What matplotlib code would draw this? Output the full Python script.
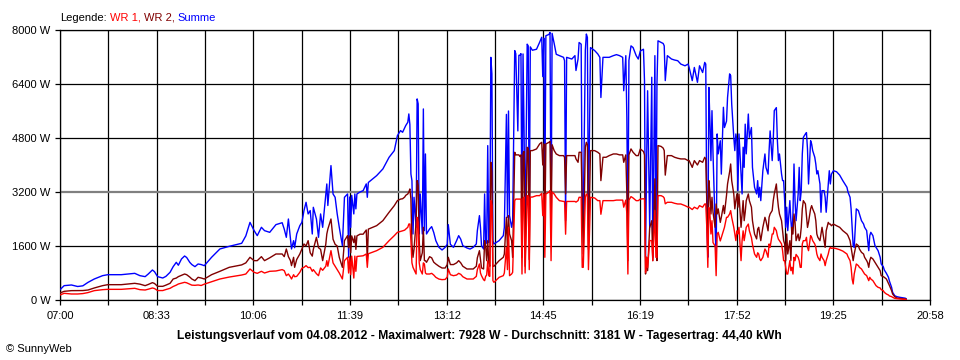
import matplotlib
matplotlib.use("Agg")
import matplotlib.pyplot as plt
import numpy as np

# ---------------- data ----------------
times = [
    "07:00", "07:04", "07:11", "07:17", "07:22", "07:27", "07:33", "07:41", "07:46", "07:59",
    "08:12", "08:17", "08:22", "08:25", "08:29", "08:31", "08:34", "08:39", "08:42", "08:46",
    "08:49", "08:52", "08:54", "08:57", "09:00", "09:02", "09:05", "09:07", "09:10", "09:13",
    "09:16", "09:19", "09:26", "09:34", "09:43", "09:55", "09:59", "10:03", "10:07", "10:10",
    "10:14", "10:17", "10:22", "10:28", "10:34", "10:36", "10:38", "10:40", "10:42", "10:43",
    "10:45", "10:46", "10:48", "10:51", "10:53", "10:55", "10:57", "10:59", "11:01", "11:03",
    "11:04", "11:07", "11:09", "11:11", "11:13", "11:16", "11:17", "11:18", "11:21", "11:23",
    "11:25", "11:27", "11:29", "11:32", "11:34", "11:37", "11:38", "11:39", "11:40", "11:41",
    "11:43", "11:44", "11:45", "11:46", "11:49", "11:52", "11:55", "11:56", "11:57", "12:05",
    "12:11", "12:17", "12:22", "12:25", "12:28", "12:30", "12:32", "12:33", "12:35", "12:36",
    "12:37", "12:38", "12:39", "12:40", "12:41", "12:43", "12:44", "12:45", "12:46", "12:47",
    "12:49", "12:50", "12:51", "12:52", "12:53", "12:56", "12:58", "13:00", "13:02", "13:05",
    "13:08", "13:11", "13:13", "13:14", "13:16", "13:19", "13:22", "13:24", "13:26", "13:28",
    "13:32", "13:35", "13:38", "13:41", "13:42", "13:44", "13:45", "13:46", "13:48", "13:49",
    "13:50", "13:51", "13:52", "13:53", "13:54", "13:55", "13:56", "13:57", "13:58", "14:03",
    "14:07", "14:08", "14:10", "14:11", "14:12", "14:13", "14:15", "14:16", "14:18", "14:19",
    "14:21", "14:22", "14:23", "14:24", "14:25", "14:26", "14:27", "14:28", "14:30", "14:31",
    "14:32", "14:33", "14:35", "14:39", "14:42", "14:44", "14:45", "14:46", "14:47", "14:48",
    "14:51", "14:52", "14:53", "14:54", "14:56", "14:58", "15:01", "15:05", "15:06", "15:07",
    "15:08", "15:13", "15:16", "15:17", "15:19", "15:20", "15:22", "15:23", "15:24", "15:26",
    "15:27", "15:28", "15:29", "15:31", "15:35", "15:38", "15:40", "15:41", "15:43", "15:46",
    "15:49", "15:53", "15:56", "15:59", "16:02", "16:03", "16:05", "16:06", "16:07", "16:08",
    "16:10", "16:12", "16:15", "16:17", "16:19", "16:22", "16:23", "16:24", "16:25", "16:26",
    "16:28", "16:30", "16:31", "16:33", "16:34", "16:35", "16:36", "16:39", "16:41", "16:42",
    "16:43", "16:45", "16:49", "16:52", "16:55", "16:58", "17:02", "17:05", "17:06", "17:09",
    "17:11", "17:14", "17:16", "17:19", "17:21", "17:22", "17:23", "17:24", "17:25", "17:26",
    "17:27", "17:28", "17:29", "17:31", "17:32", "17:33", "17:34", "17:36", "17:37", "17:39",
    "17:40", "17:42", "17:43", "17:45", "17:46", "17:47", "17:49", "17:50", "17:51", "17:52",
    "17:53", "17:54", "17:56", "17:57", "17:58", "17:59", "18:00", "18:01", "18:03", "18:04",
    "18:06", "18:07", "18:09", "18:11", "18:12", "18:13", "18:14", "18:15", "18:17", "18:19",
    "18:20", "18:22", "18:23", "18:24", "18:26", "18:27", "18:28", "18:30", "18:31", "18:32",
    "18:33", "18:35", "18:36", "18:37", "18:38", "18:39", "18:40", "18:41", "18:43", "18:44",
    "18:45", "18:46", "18:47", "18:48", "18:49", "18:51", "18:52", "18:53", "18:54", "18:55",
    "18:56", "18:58", "18:59", "19:00", "19:01", "19:03", "19:04", "19:05", "19:07", "19:08",
    "19:09", "19:10", "19:12", "19:13", "19:14", "19:16", "19:17", "19:18", "19:20", "19:21",
    "19:22", "19:23", "19:25", "19:28", "19:31", "19:34", "19:38", "19:39", "19:41", "19:42",
    "19:43", "19:44", "19:45", "19:47", "19:49", "19:50", "19:52", "19:54", "19:55", "19:57",
    "19:58", "19:59", "20:00", "20:01", "20:03", "20:04", "20:05", "20:06", "20:08", "20:10",
    "20:11", "20:13", "20:14", "20:16", "20:18", "20:19", "20:21", "20:22", "20:24", "20:26",
    "20:29", "20:34", "20:35",
]

summe = [
    306, 425, 445, 400, 420, 523, 622, 721, 750, 750,
    790, 721, 692, 770, 889, 840, 692, 652, 700, 820,
    988, 1116, 1030, 1215, 1304, 1260, 1116, 1050, 988, 1067,
    1050, 1017, 1265, 1512, 1590, 1680, 1900, 2300, 2055, 1907,
    2154, 2055, 2005, 2233, 2290, 2100, 1857, 2400, 1800, 1512,
    1758, 1550, 1956, 2203, 2302, 2648, 2895, 2550, 2650, 1956,
    2747, 2400, 1857, 2550, 2154, 3142, 3438, 2800, 3982, 3142,
    3043, 2550, 2154, 1610, 3043, 3142, 1265, 3050, 2150, 3100,
    2550, 3142, 2700, 3142, 3200, 3240, 3440, 3043, 3482, 3685,
    3883, 4229, 4426, 4870, 5019, 4970, 5100, 5167, 5266, 5513,
    5200, 3734, 3537, 1956, 3043, 2154, 5958, 5810, 1956, 3142,
    1956, 5661, 2055, 4327, 1956, 2105, 2174, 2000, 1758, 1561,
    1482, 1561, 1650, 2233, 1650, 1561, 1758, 1907, 1800, 1610,
    1541, 1510, 1560, 1660, 2055, 2500, 2150, 1610, 1512, 3142,
    1660, 1758, 4574, 1700, 1800, 7190, 6700, 1758, 1660, 1760,
    1907, 2154, 5500, 2450, 5600, 2500, 2154, 2350, 7390, 7300,
    5010, 7250, 7250, 7300, 1860, 7290, 5010, 1800, 7580, 7530,
    2000, 7500, 7400, 7430, 7637, 7785, 6620, 7760, 2845, 7830,
    7870, 7928, 1956, 7900, 7600, 7280, 7240, 7190, 7090, 2350,
    7190, 7140, 7240, 6800, 7140, 7630, 7580, 2650, 2350, 7400,
    7880, 7780, 2350, 7480, 7390, 7290, 7190, 6000, 7190, 7190,
    7190, 7240, 7270, 7240, 7190, 6200, 7240, 5400, 1850, 7100,
    7530, 7480, 7240, 7140, 7380, 7430, 6500, 1265, 4000, 6200,
    2150, 6600, 1265, 7240, 1560, 6400, 7680, 7630, 7600, 7530,
    6500, 7240, 7140, 7110, 7090, 6990, 6940, 6990, 6890, 6500,
    6890, 6450, 6940, 6740, 7040, 6990, 2540, 1265, 6300, 5300,
    4130, 5610, 4330, 2150, 1166, 4920, 4330, 4720, 3730, 5710,
    5110, 5300, 6000, 6700, 6650, 5810, 4820, 4426, 4920, 4720,
    3240, 4920, 3730, 3142, 4527, 3930, 5210, 4330, 5510, 4820,
    5110, 3930, 3340, 3142, 3537, 3043, 3340, 2944, 3830, 4327,
    3930, 3730, 4420, 5010, 4130, 4720, 5610, 5700, 4720, 4130,
    4327, 3734, 3537, 3537, 2944, 2154, 2750, 2055, 2944, 2350,
    1956, 2549, 4030, 2944, 2350, 3142, 3930, 2944, 3240, 4327,
    4820, 4920, 4960, 4470, 3438, 4720, 4620, 4426, 4230, 4030,
    3734, 3830, 3438, 2600, 3240, 3240, 3043, 2600, 3440, 3830,
    3438, 3730, 3830, 3800, 3700, 3537, 3340, 3200, 3043, 2700,
    2154, 1610, 1560, 2700, 2650, 2549, 2350, 2253, 2154, 2055,
    1758, 1462, 1907, 2005, 1907, 1758, 1610, 1561, 1462, 1265,
    1067, 988, 889, 790, 672, 553, 375, 227, 128, 99,
    79, 55, 40,
]

wr2 = [
    207, 257, 277, 277, 280, 296, 356, 425, 454, 454,
    494, 470, 425, 460, 514, 490, 405, 405, 440, 494,
    622, 650, 692, 730, 770, 750, 680, 622, 573, 672,
    652, 622, 750, 850, 968, 1040, 1100, 1265, 1166, 1166,
    1284, 1166, 1250, 1363, 1363, 1284, 1512, 1284, 1166, 1018,
    1265, 968, 1200, 1363, 1512, 1660, 1600, 1758, 1400, 1300,
    1500, 1857, 1550, 1500, 1166, 1650, 1956, 2100, 2400, 1800,
    1650, 1600, 1265, 968, 1758, 1907, 1550, 1900, 1400, 1900,
    1700, 1900, 1500, 1900, 1950, 1950, 2075, 1166, 2100, 2203,
    2351, 2600, 2796, 2944, 2990, 3000, 3050, 3100, 3142, 3200,
    3290, 3000, 1650, 1265, 1500, 2300, 3537, 3400, 1758, 1166,
    1400, 2154, 1166, 1166, 1116, 1284, 1250, 1120, 1067, 1000,
    948, 948, 1050, 1265, 1050, 1050, 1100, 1166, 1100, 1000,
    919, 919, 919, 1000, 1250, 1462, 1200, 950, 919, 1758,
    1600, 1166, 1758, 1100, 1000, 4080, 3800, 1000, 1000, 1166,
    1265, 1363, 2450, 1500, 2500, 1956, 1758, 1265, 4377, 4300,
    4300, 4300, 4250, 4300, 1265, 4350, 4400, 1000, 4525, 4500,
    1200, 4426, 4426, 4476, 4624, 4673, 4000, 4624, 2154, 4624,
    4673, 4700, 2154, 4600, 4426, 4327, 4278, 4278, 4229, 3142,
    4278, 4278, 4278, 4180, 4080, 4377, 4377, 2944, 1363, 4526,
    4673, 4600, 1500, 4426, 4426, 4377, 4327, 3537, 4229, 4229,
    4278, 4327, 4327, 4300, 4300, 4080, 4300, 3142, 1166, 4300,
    4476, 4377, 4278, 4278, 4476, 4400, 4300, 770, 1265, 870,
    2150, 2350, 1166, 3590, 2150, 1166, 4575, 4550, 4500, 4426,
    3700, 4278, 4278, 4229, 4200, 4180, 4180, 4130, 4130, 3930,
    4130, 4000, 4130, 4080, 4229, 4180, 2944, 1363, 3537, 3142,
    2549, 3043, 2600, 2154, 2845, 2549, 2700, 2300, 2450, 2800,
    2560, 3100, 3438, 3800, 4030, 3537, 3142, 2700, 2950, 3142,
    2750, 3142, 2154, 2549, 2944, 2350, 2600, 2944, 3142, 2944,
    2750, 2350, 1956, 1810, 2100, 2154, 1956, 1758, 2154, 2450,
    2350, 2050, 2450, 2549, 2650, 2944, 3142, 3438, 3043, 2750,
    2549, 2350, 2050, 1758, 1660, 1166, 1956, 1363, 1758, 1166,
    2154, 1956, 2549, 2300, 1758, 1956, 1758, 1858, 2154, 2700,
    2944, 2845, 2500, 2150, 2300, 2700, 2796, 2700, 2549, 2350,
    1956, 1857, 1758, 1956, 2154, 1758, 1560, 2050, 2300, 2250,
    2250, 2200, 2250, 2200, 2154, 2055, 1956, 1907, 1758, 1560,
    1363, 1166, 1363, 1660, 1610, 1512, 1413, 1363, 1265, 1166,
    1100, 968, 1166, 1265, 1215, 1166, 1116, 1067, 968, 869,
    721, 692, 672, 622, 494, 425, 277, 178, 99, 59,
    49, 30, 20,
]

wr1 = [
    148, 198, 178, 178, 190, 220, 277, 306, 316, 316,
    346, 306, 296, 320, 356, 340, 280, 280, 310, 346,
    400, 440, 474, 500, 524, 510, 470, 440, 435, 445,
    430, 470, 540, 622, 680, 740, 770, 919, 820, 790,
    850, 800, 850, 860, 900, 870, 721, 770, 680, 622,
    750, 690, 700, 820, 940, 968, 1018, 960, 968, 850,
    900, 780, 721, 950, 880, 1000, 1166, 1000, 1462, 1100,
    1000, 900, 800, 622, 1166, 1265, 800, 1280, 750, 1300,
    650, 1300, 850, 1290, 1300, 1310, 1363, 968, 1370, 1462,
    1561, 1758, 1907, 2005, 2030, 2050, 2070, 2100, 2154, 2250,
    2253, 1758, 1100, 968, 900, 770, 2450, 2300, 1100, 900,
    770, 1100, 1067, 800, 770, 770, 790, 740, 672, 620,
    603, 610, 680, 919, 750, 720, 740, 790, 760, 690,
    622, 622, 622, 700, 900, 1067, 800, 720, 600, 573,
    700, 740, 1160, 720, 700, 2944, 2800, 573, 523, 672,
    721, 800, 1560, 900, 2154, 721, 770, 820, 2944, 2990,
    2990, 2990, 2990, 2990, 770, 3000, 3050, 800, 3092, 3080,
    900, 3050, 3050, 3092, 3092, 3160, 2500, 3140, 1265, 3140,
    3200, 3240, 1166, 3200, 3142, 3043, 2944, 2920, 2920, 1950,
    2920, 2920, 2920, 2900, 2944, 3043, 3043, 968, 968, 3043,
    3142, 3100, 900, 3043, 3023, 2944, 2944, 2540, 2944, 2944,
    2944, 2944, 2960, 2960, 2960, 2750, 2960, 2550, 770, 2960,
    3063, 3023, 2944, 2944, 2990, 3000, 2990, 820, 1265, 960,
    1760, 1760, 1166, 2650, 1265, 1265, 3092, 3092, 3060, 3020,
    2850, 2895, 2895, 2865, 2845, 2845, 2796, 2750, 2750, 2680,
    2750, 2700, 2796, 2750, 2845, 2845, 2154, 968, 2740, 2549,
    1956, 2350, 1700, 1600, 721, 1956, 2005, 1750, 1850, 2050,
    2150, 2450, 2450, 2550, 2648, 2450, 2154, 1956, 1760, 2050,
    1960, 2154, 1166, 1758, 2050, 1758, 1956, 2154, 2250, 2050,
    1850, 1650, 1363, 1265, 1400, 1363, 1215, 1166, 1265, 1512,
    1462, 1265, 1660, 1560, 1956, 1956, 2154, 2055, 1900, 1800,
    1758, 1660, 1462, 1166, 1166, 968, 770, 770, 1166, 870,
    968, 770, 1265, 1166, 1350, 1265, 1166, 968, 968, 1660,
    1758, 1758, 1857, 1561, 1462, 1907, 1857, 1758, 1660, 1561,
    1363, 1265, 1166, 1363, 1265, 1166, 1018, 1166, 1363, 1500,
    1561, 1530, 1540, 1520, 1490, 1450, 1363, 1284, 1166, 968,
    622, 474, 770, 1067, 1018, 968, 919, 820, 770, 721,
    650, 573, 672, 622, 573, 523, 474, 425, 375, 356,
    306, 277, 227, 178, 148, 118, 100, 80, 49, 40,
    30, 20, 15,
]

x_labels = ["07:00", "08:33", "10:06", "11:39", "13:12", "14:45",
            "16:19", "17:52", "19:25", "20:58"]
y_ticks = [0, 1600, 3200, 4800, 6400, 8000]

legend_parts = [("Legende:", "black"), ("WR 1,", "#ff0000"),
                ("WR 2,", "#800000"), ("Summe", "#0000ff")]
title = ("Leistungsverlauf vom 04.08.2012 - Maximalwert: 7928 W - "
         "Durchschnitt: 3181 W - Tagesertrag: 44,40 kWh")

assert len(times) == len(summe) == len(wr1) == len(wr2)

# ---------------- drawing ----------------
FONT = "Liberation Sans"
W, H = 960, 360


def to_min(s):
    h, m = s.split(":")
    return int(h) * 60 + int(m)


t = np.array([to_min(s) for s in times])

fig = plt.figure(figsize=(W / 100, H / 100), dpi=100)
fig.patch.set_facecolor("white")
ax = fig.add_axes([60 / W, 60 / H, 870 / W, 270 / H])

x0, x1 = to_min(x_labels[0]), to_min(x_labels[-1])
ax.set_xlim(x0, x1)
ax.set_ylim(y_ticks[0], y_ticks[-1])

major = np.linspace(x0, x1, len(x_labels))
minor = (major[:-1] + major[1:]) / 2
ax.set_xticks(major)
ax.set_xticklabels(x_labels, fontfamily=FONT, fontsize=8)
ax.set_xticks(minor, minor=True)
ax.set_yticks(y_ticks)
ax.set_yticklabels([f"{v} W" for v in y_ticks], fontfamily=FONT, fontsize=8)

for xv in np.concatenate([major, minor]):
    ax.axvline(xv, color="black", lw=0.9, zorder=1)
for yv in y_ticks:
    if yv == 3200:
        ax.axhline(yv, color="#808080", lw=1.6, zorder=1)
    else:
        ax.axhline(yv, color="black", lw=0.9, zorder=1)

ax.plot(t, summe, color="#0000ff", lw=1.0, zorder=3)
ax.plot(t, wr2, color="#800000", lw=1.0, zorder=4)
ax.plot(t, wr1, color="#ff0000", lw=1.0, zorder=5)

ax.tick_params(axis="both", which="both", direction="out", length=3.5,
               width=0.9, color="black", pad=3.5)
ax.tick_params(axis="x", pad=4.5)
for sp in ax.spines.values():
    sp.set_linewidth(0.9)
    sp.set_color("black")

# legend line at the top (multi-coloured text)
fig.canvas.draw()
renderer = fig.canvas.get_renderer()
xpos = 60
for s, c in legend_parts:
    txt = fig.text(xpos / W, 1 - 21 / H, s, color=c, fontsize=8,
                   fontfamily=FONT, ha="left", va="baseline")
    bb = txt.get_window_extent(renderer)
    xpos += bb.width + 3.2

fig.text(479 / W, 1 - 339 / H, title, ha="center", va="baseline",
         fontsize=8.75, fontweight="bold", fontfamily=FONT)
fig.text(6 / W, 1 - 352 / H, "\u00a9 SunnyWeb", ha="left", va="baseline",
         fontsize=8, fontfamily=FONT)

fig.savefig("out.png", dpi=100, facecolor="white")
